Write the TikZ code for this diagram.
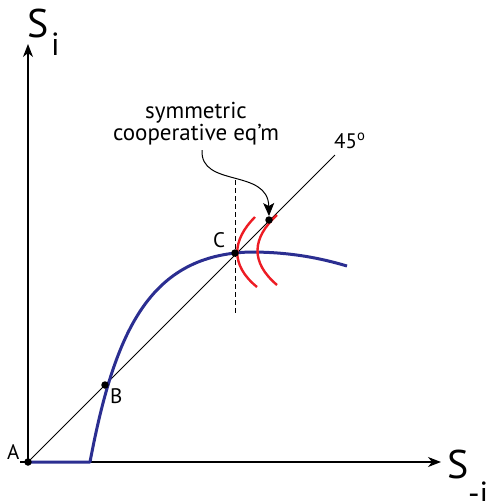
\documentclass[tikz,border=0pt]{standalone}
\usepackage{fontspec}
\setmainfont{PT Sans}
\usetikzlibrary{positioning, arrows.meta}
\definecolor{curveblue}{RGB}{43,46,145}
\definecolor{indred}{RGB}{237,28,36}

\begin{document}
\begin{tikzpicture}[
    x=1pt, y=-1pt,
    axis/.style={
        line width=1.2pt,
        -{Stealth[length=13pt, width=10pt, inset=4pt]}
    },
    diag/.style={line width=0.9pt},
    reaction/.style={line width=3pt, curveblue, line join=round},
    indiff/.style={line width=2.4pt, indred},
    dot/.style={circle, fill=black, inner sep=0pt, minimum size=7.5pt},
    ptlabel/.style={font=\fontsize{21}{21}\selectfont, inner sep=0pt, anchor=base west},
    axlabel/.style={font=\fontsize{40}{40}\selectfont, inner sep=0pt, anchor=base west},
    sublabel/.style={font=\fontsize{32}{32}\selectfont, inner sep=0pt, anchor=base west},
    note/.style={font=\fontsize{23}{20}\selectfont, align=center, inner sep=0pt}
]
\useasboundingbox (0,0) rectangle (491,501);

% positions
\coordinate (pA) at (28,462);
\coordinate (pB) at (105,385);
\coordinate (pC) at (235,253);
\coordinate (pE) at (269,220);
\coordinate (ytop) at (28,44);
\coordinate (xstart) at (20,462);
\coordinate (xend) at (441,462);
\coordinate (ray) at (335,155);
\coordinate (dtop) at (235,180);
\coordinate (dbot) at (235,313);

% axes and 45 degree line
\draw[axis] (pA) -- (ytop);
\draw[axis] (xstart) -- (xend);
\draw[diag] (pA) -- (ray);
\draw[line width=1pt, dash pattern=on 5pt off 3pt] (dtop) -- (dbot);

% reaction curve
\draw[reaction] (pA) -- (90,462)
    .. controls (115,330) and (150,255) .. (250,252)
    .. controls (290,252) and (320,258) .. (347,266);

% indifference curves
\draw[indiff] (255,217) .. controls (232,240) and (230,265) .. (257,287);
\draw[indiff] (277,215) .. controls (252,238) and (250,262) .. (277,285);

% points
\node[dot] (A) at (pA) {};
\node[dot] (B) at (pB) {};
\node[dot] (C) at (pC) {};
\node[dot] (E) at (pE) {};

% labels
\node[ptlabel] (labA) at (7,459) {A};
\node[ptlabel] (labB) at (110,403) {B};
\node[ptlabel] (labC) at (213,247) {C};
\node[ptlabel] (lab45) at (334,148) {45\textsuperscript{o}};
\node[axlabel] (Si) at (27,37) {S};
\node[sublabel] (Sisub) at (51,55) {i};
\node[axlabel] (Smi) at (447,478) {S};
\node[sublabel] (Smisub) at (468,504) {-i};

\node[note] (eqm) at (196,124) {symmetric\\cooperative eq’m};
\draw[line width=1pt, -{Stealth[length=13pt, width=11pt, inset=3pt]}]
    (202,150) .. controls (200,188) and (268,168) .. (E.north);

\end{tikzpicture}
\end{document}
